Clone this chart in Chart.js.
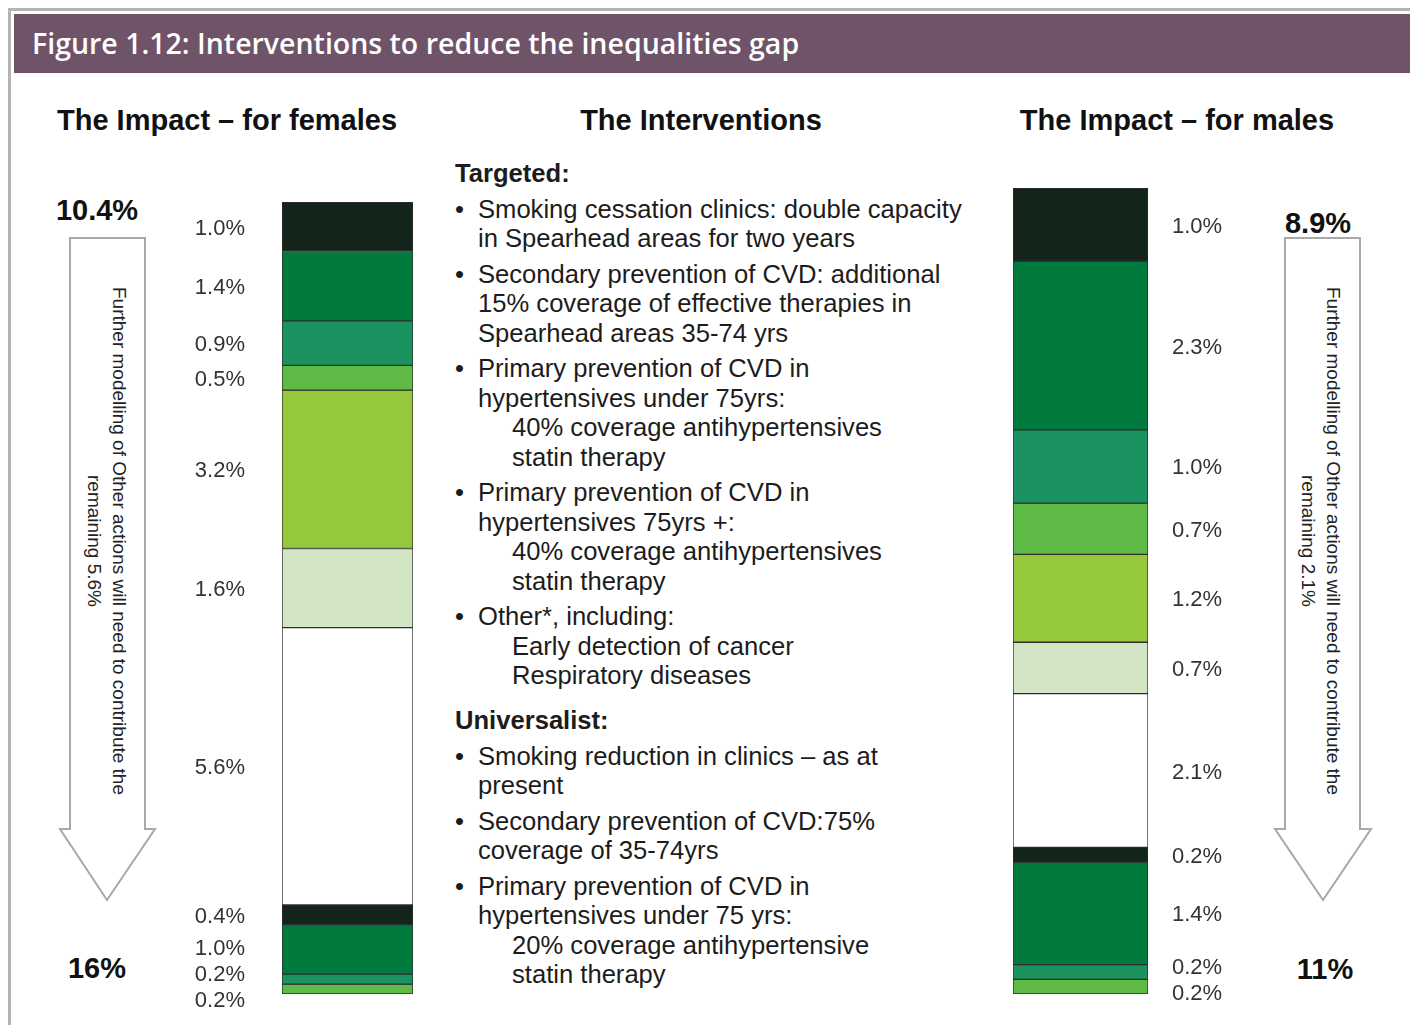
<!DOCTYPE html>
<html>
<head>
<meta charset="utf-8">
<script src="https://cdn.jsdelivr.net/npm/chart.js@4.4.1/dist/chart.umd.min.js"></script>
<style>
  html, body { margin: 0; padding: 0; background: #fff; }
  body { width: 1410px; height: 1025px; position: relative; overflow: hidden; font-family: "Liberation Sans", Arial, sans-serif; color: #222; }
  .frame { position: absolute; left: 8px; top: 8px; width: 1410px; height: 1030px; border: 3px solid #b4b4b4; box-sizing: border-box; }
  .titlebar { position: absolute; left: 14px; top: 14px; width: 1396px; height: 59px; background: #6e5369; }
  .titlebar span { position: absolute; left: 18px; top: 50%; transform: translateY(-52%); color: #fff; font-family: "Open Sans", sans-serif; font-weight: 600; font-size: 28.5px; white-space: nowrap; }
  .c { position: absolute; transform: translate(-50%, -50%); white-space: nowrap; }
  .head { font-weight: bold; font-size: 29px; color: #111; }
  .big { font-weight: bold; font-size: 29px; color: #111; }
  .mid { position: absolute; left: 455px; top: 159px; font-size: 25.6px; line-height: 29.5px; color: #1c1c1c; white-space: nowrap; }
  .mid .hd { font-weight: bold; }
  .mid .hd.u { margin-top: 15.5px; }
  .mid .b { position: relative; padding-left: 23px; margin-top: 6px; }
  .mid .b::before { content: "\2022"; position: absolute; left: 0; top: 0; }
  .mid .s { padding-left: 34px; }
  canvas { position: absolute; }
  svg { position: absolute; left: 0; top: 0; }
</style>
</head>
<body>
<div class="frame"></div>
<div class="titlebar"><span>Figure 1.12: Interventions to reduce the inequalities gap</span></div>

<div class="c head" style="left:227px; top:120px;">The Impact – for females</div>
<div class="c head" style="left:701px; top:120px;">The Interventions</div>
<div class="c head" style="left:1177px; top:120px;">The Impact – for males</div>

<div class="c big" style="left:97px; top:210px;">10.4%</div>
<div class="c big" style="left:97px; top:968px;">16%</div>
<div class="c big" style="left:1318px; top:223px;">8.9%</div>
<div class="c big" style="left:1325px; top:969px;">11%</div>

<svg width="1410" height="1025">
  <polygon points="70,238 145,238 145,829 155,829 107,900 60,829 70,829" fill="#fff" stroke="#a8a8a8" stroke-width="2"/>
  <polygon points="1285,238 1360,238 1360,829 1371,829 1323,900 1275,829 1285,829" fill="#fff" stroke="#a8a8a8" stroke-width="2"/>
  <g font-family="Liberation Sans, Arial, sans-serif" font-size="19" fill="#222" text-anchor="middle" dominant-baseline="middle">
    <g transform="rotate(90 106 541)">
      <text x="106" y="528.5">Further modelling of Other actions will need to contribute the</text>
      <text x="106" y="553.5">remaining 5.6%</text>
    </g>
    <g transform="rotate(90 1320 541)">
      <text x="1320" y="528.5">Further modelling of Other actions will need to contribute the</text>
      <text x="1320" y="553.5">remaining 2.1%</text>
    </g>
  </g>
</svg>

<div class="mid">
  <div class="hd">Targeted:</div>
  <div class="b">Smoking cessation clinics: double capacity<br>in Spearhead areas for two years</div>
  <div class="b">Secondary prevention of CVD: additional<br>15% coverage of effective therapies in<br>Spearhead areas 35-74 yrs</div>
  <div class="b">Primary prevention of CVD in<br>hypertensives under 75yrs:<div class="s">40% coverage antihypertensives<br>statin therapy</div></div>
  <div class="b">Primary prevention of CVD in<br>hypertensives 75yrs +:<div class="s">40% coverage antihypertensives<br>statin therapy</div></div>
  <div class="b">Other*, including:<div class="s">Early detection of cancer<br>Respiratory diseases</div></div>
  <div class="hd u">Universalist:</div>
  <div class="b">Smoking reduction in clinics – as at<br>present</div>
  <div class="b">Secondary prevention of CVD:75%<br>coverage of 35-74yrs</div>
  <div class="b">Primary prevention of CVD in<br>hypertensives under 75 yrs:<div class="s">20% coverage antihypertensive<br>statin therapy</div></div>
</div>

<canvas id="female" width="240" height="830" style="left:180px; top:190px;"></canvas>
<canvas id="male" width="240" height="840" style="left:1005px; top:176px;"></canvas>

<script>
// segments from top of each bar to bottom
const segmentNames = [
  'Targeted: smoking cessation', 'Targeted: secondary prevention CVD',
  'Targeted: primary prevention <75', 'Targeted: primary prevention 75+',
  'Targeted: other', 'Universalist (combined)', 'Further modelling of other actions',
  'Universalist: smoking reduction', 'Universalist: secondary prevention CVD',
  'Universalist: primary prevention <75', 'Universalist: other'
]
const segmentColors = ['#13241a', '#007a3d', '#1a9360', '#5fba46', '#96c83c', '#d2e6c6',
  '#ffffff', '#13241a', '#007a3d', '#1a9360', '#5fba46']

const femaleValues = [1.0, 1.4, 0.9, 0.5, 3.2, 1.6, 5.6, 0.4, 1.0, 0.2, 0.2]
const femaleLabels = ['1.0%', '1.4%', '0.9%', '0.5%', '3.2%', '1.6%', '5.6%', '0.4%', '1.0%', '0.2%', '0.2%']
const maleValues = [1.0, 2.3, 1.0, 0.7, 1.2, 0.7, 2.1, 0.2, 1.4, 0.2, 0.2]
const maleLabels = ['1.0%', '2.3%', '1.0%', '0.7%', '1.2%', '0.7%', '2.1%', '0.2%', '1.4%', '0.2%', '0.2%']

// writes the % next to each segment, spreading labels that would overlap
const segmentLabels = {
  id: 'segmentLabels',
  afterDatasetsDraw(chart, args, opts) {
    const ctx = chart.ctx
    const area = chart.chartArea
    var ys = chart.data.datasets.map((d, i) => {
      const bar = chart.getDatasetMeta(i).data[0]
      return (bar.y + bar.base) / 2
    })
    const gap = 26
    for (var k = 0; k < 60; k++) {
      for (var i = 1; i < ys.length; i++) {
        const diff = ys[i] - ys[i - 1]
        if (diff < gap) {
          const d = (gap - diff) / 2
          ys[i - 1] -= d
          ys[i] += d
        }
      }
    }
    ctx.save()
    ctx.font = '22px "Liberation Sans", Arial, sans-serif'
    ctx.fillStyle = '#333'
    ctx.textBaseline = 'middle'
    if (opts.side === 'left') {
      ctx.textAlign = 'right'
    } else {
      ctx.textAlign = 'left'
    }
    const x = opts.side === 'left' ? area.left - 37 : area.right + 24
    opts.labels.forEach((t, i) => ctx.fillText(t, x, ys[i] + 2))
    ctx.restore()
  }
}

function makeBar(id, values, labels, side, padding) {
  const total = values.reduce((a, b) => a + b, 0)
  return new Chart(document.getElementById(id), {
    type: 'bar',
    data: {
      labels: [''],
      datasets: values.map((v, i) => ({
        label: segmentNames[i],
        data: [v],
        backgroundColor: segmentColors[i],
        borderColor: '#2e2e2e',
        borderWidth: 1,
        borderSkipped: false,
        stack: 'impact'
      }))
    },
    options: {
      responsive: false,
      animation: false,
      devicePixelRatio: 1,
      layout: { padding: padding },
      datasets: { bar: { categoryPercentage: 1, barPercentage: 1 } },
      scales: {
        x: { stacked: true, display: false },
        y: { stacked: true, display: false, reverse: true, min: 0, max: Math.round(total * 10) / 10 }
      },
      plugins: {
        legend: { display: false },
        tooltip: { enabled: false },
        segmentLabels: { side: side, labels: labels }
      }
    },
    plugins: [segmentLabels]
  })
}

makeBar('female', femaleValues, femaleLabels, 'left', { left: 102, right: 7, top: 12, bottom: 26 })
makeBar('male', maleValues, maleLabels, 'right', { left: 8, right: 97, top: 12, bottom: 22 })
</script>
</body>
</html>
